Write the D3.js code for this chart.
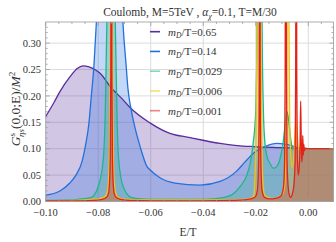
<!DOCTYPE html>
<html>
<head>
<meta charset="utf-8">
<script src="https://cdn.jsdelivr.net/npm/d3@7"></script>
<style>
html, body { margin: 0; padding: 0; background: #fff; }
svg { display: block; font-family: "Liberation Serif", serif; }
</style>
</head>
<body>
<div id="painting"></div>
<script>
// m_D/T values for the legend
var labels = ["0.65", "0.14", "0.029", "0.006", "0.001"];

var colours = ["#5a2ca0", "#2170dc", "#20b68a", "#f5c211", "#e62117"];

// [E/T, G/M^2]
var purple = [[-0.1000,0.161],[-0.0968,0.188],[-0.0946,0.208],[-0.0908,0.236],[-0.0880,0.252],[-0.0858,0.257],
  [-0.0835,0.255],[-0.0810,0.249],[-0.0793,0.243],[-0.0750,0.215],[-0.0706,0.193],[-0.0679,0.178],[-0.0603,0.149],
  [-0.0527,0.129],[-0.0450,0.121],[-0.0401,0.116],[-0.0336,0.110],[-0.0271,0.106],[-0.0210,0.104],[-0.0108,0.102],
  [-0.0020,0.1005],[0.0000,0.100],[0.0096,0.100]];

var blue = [[-0.1000,0.012],[-0.0946,0.020],[-0.0908,0.035],[-0.0885,0.050],[-0.0862,0.075],[-0.0847,0.110],
  [-0.0835,0.150],[-0.0828,0.190],[-0.0816,0.260],[-0.0807,0.340],[-0.0793,0.480],[-0.0774,0.700],[-0.0756,0.850],
  [-0.0737,0.750],[-0.0717,0.480],[-0.0706,0.340],[-0.0694,0.260],[-0.0687,0.215],[-0.0675,0.175],[-0.0660,0.140],
  [-0.0641,0.105],[-0.0614,0.066],[-0.0603,0.060],[-0.0565,0.045],[-0.0508,0.035],[-0.0412,0.031],[-0.0336,0.038],
  [-0.0272,0.058],[-0.0241,0.075],[-0.0210,0.091],[-0.0165,0.104],[-0.0119,0.110],[-0.0070,0.107],[-0.0032,0.1005],
  [0.0000,0.100],[0.0096,0.100]];

var teal = [[-0.1000,0.002],[-0.0900,0.003],[-0.0865,0.005],[-0.0827,0.008],[-0.0800,0.028],[-0.0781,0.079],
  [-0.0773,0.173],[-0.0767,0.340],[-0.0762,0.600],[-0.0751,1.400],[-0.0740,0.600],[-0.0735,0.340],[-0.0729,0.173],
  [-0.0722,0.079],[-0.0705,0.028],[-0.0675,0.008],[-0.0637,0.005],[-0.0550,0.004],[-0.0400,0.004],[-0.0320,0.008],
  [-0.0290,0.013],[-0.0260,0.028],[-0.0234,0.050],[-0.0220,0.075],[-0.0210,0.110],[-0.0200,0.173],[-0.0195,0.340],
  [-0.0191,0.650],[-0.0185,1.300],[-0.0179,0.650],[-0.0176,0.340],[-0.0171,0.173],[-0.0165,0.110],[-0.0157,0.085],
  [-0.0146,0.072],[-0.0133,0.063],[-0.0119,0.067],[-0.0108,0.080],[-0.0095,0.115],[-0.0089,0.142],[-0.0081,0.170],
  [-0.0074,0.150],[-0.0066,0.115],[-0.0059,0.098],[-0.0047,0.102],[-0.0032,0.100],[0.0000,0.100],[0.0096,0.100]];

var yellow = [[-0.1000,0.001],[-0.0900,0.002],[-0.0820,0.004],[-0.0786,0.007],[-0.0775,0.009],[-0.0765,0.020],
  [-0.0760,0.047],[-0.0757,0.100],[-0.0755,0.200],[-0.0753,0.380],[-0.0750,1.200],[-0.0747,0.380],[-0.0745,0.200],
  [-0.0743,0.100],[-0.0740,0.047],[-0.0735,0.020],[-0.0725,0.008],[-0.0700,0.004],[-0.0600,0.003],[-0.0400,0.003],
  [-0.0300,0.003],[-0.0240,0.004],[-0.0215,0.007],[-0.0209,0.010],[-0.0203,0.047],[-0.0199,0.120],[-0.0195,0.340],
  [-0.0188,1.200],[-0.0181,0.340],[-0.0177,0.120],[-0.0174,0.047],[-0.0166,0.012],[-0.0150,0.007],[-0.0133,0.006],
  [-0.0115,0.008],[-0.0100,0.013],[-0.0093,0.020],[-0.0088,0.047],[-0.0084,0.130],[-0.0081,0.380],[-0.00775,1.100],
  [-0.0074,0.380],[-0.0071,0.160],[-0.0067,0.090],[-0.0062,0.065],[-0.0057,0.075],[-0.0052,0.115],[-0.0047,0.155],
  [-0.0042,0.130],[-0.0037,0.098],[-0.0030,0.101],[0.0000,0.100],[0.0096,0.100]];

var red = [[-0.1000,0.001],[-0.0900,0.001],[-0.0820,0.002],[-0.0785,0.004],[-0.0768,0.008],[-0.0761,0.015],
  [-0.0757,0.035],[-0.0754,0.090],[-0.0752,0.250],[-0.0750,1.000],[-0.0748,0.250],[-0.0746,0.090],[-0.0743,0.035],
  [-0.0739,0.015],[-0.0732,0.008],[-0.0715,0.004],[-0.0680,0.002],[-0.0500,0.001],[-0.0300,0.002],[-0.0230,0.004],
  [-0.0203,0.008],[-0.0194,0.020],[-0.0190,0.060],[-0.0187,0.200],[-0.0185,1.000],[-0.0183,0.200],[-0.0180,0.060],
  [-0.0176,0.020],[-0.0167,0.008],[-0.0150,0.005],[-0.0125,0.006],[-0.0105,0.010],[-0.0095,0.025],[-0.0090,0.080],
  [-0.0088,0.250],[-0.00857,1.000],[-0.0083,0.250],[-0.0081,0.080],[-0.0077,0.030],[-0.0072,0.012],[-0.0068,0.008],
  [-0.0062,0.012],[-0.0055,0.030],[-0.0050,0.080],[-0.0048,0.250],[-0.0046,1.000],[-0.0044,0.250],[-0.0042,0.090],
  [-0.0038,0.050],[-0.0033,0.080],[-0.0031,0.120],[-0.0029,0.190],[-0.0027,0.120],[-0.0025,0.075],[-0.0023,0.085],
  [-0.0021,0.125],[-0.0019,0.088],[-0.0017,0.108],[-0.0015,0.096],[-0.0012,0.101],[0.0000,0.100],[0.0096,0.100]];

var series = [purple, blue, teal, yellow, red];

var xTicks = [-0.10, -0.08, -0.06, -0.04, -0.02, 0.00];
var yTicks = [0.00, 0.05, 0.10, 0.15, 0.20, 0.25, 0.30];

var w = 336, h = 242;
var pLeft = 45.7, pRight = 333.5, pTop = 22, pBottom = 201.5;

var xScale = d3.scaleLinear().domain([-0.1, 0.0096]).range([pLeft, pRight]);
var yScale = d3.scaleLinear().domain([0, 0.34]).range([pBottom, pTop]);

var svg = d3.select("#painting").append("svg")
  .attr("width", w)
  .attr("height", h);

svg.append("clipPath").attr("id", "plotclip")
  .append("rect")
  .attr("x", pLeft).attr("y", pTop)
  .attr("width", pRight - pLeft).attr("height", pBottom - pTop);

// grid
var grid = svg.append("g").attr("stroke", "#dcdcdc").attr("stroke-width", 1);
grid.selectAll(".gx").data(xTicks.slice(1)).enter().append("line")
  .attr("x1", function(d){ return xScale(d); }).attr("x2", function(d){ return xScale(d); })
  .attr("y1", pTop).attr("y2", pBottom);
grid.selectAll(".gy").data(yTicks.slice(1)).enter().append("line")
  .attr("y1", function(d){ return yScale(d); }).attr("y2", function(d){ return yScale(d); })
  .attr("x1", pLeft).attr("x2", pRight);

var plot = svg.append("g").attr("clip-path", "url(#plotclip)");

var area = d3.area()
  .x(function(d){ return xScale(d[0]); })
  .y0(yScale(0))
  .y1(function(d){ return yScale(d[1]); })
  .curve(d3.curveMonotoneX);

var line = d3.line()
  .x(function(d){ return xScale(d[0]); })
  .y(function(d){ return yScale(d[1]); })
  .curve(d3.curveMonotoneX);

// fills first, then the lines on top
plot.selectAll(".fill").data(series).enter().append("path")
  .attr("d", area)
  .attr("fill", function(d, i){ return colours[i]; })
  .attr("fill-opacity", 0.27);

plot.selectAll(".curve").data(series).enter().append("path")
  .attr("d", line)
  .attr("fill", "none")
  .attr("stroke", function(d, i){ return colours[i]; })
  .attr("stroke-width", 1.3);

// frame with ticks on all sides (pointing in)
var frame = svg.append("g").attr("stroke", "#9a9a9a").attr("stroke-width", 0.8);
frame.append("rect")
  .attr("x", pLeft).attr("y", pTop)
  .attr("width", pRight - pLeft).attr("height", pBottom - pTop)
  .attr("fill", "none");

var xMinor = d3.range(-0.1, 0.0096, 0.005);
var yMinor = d3.range(0, 0.34, 0.01);

frame.selectAll(".xt").data(xMinor).enter().append("line")
  .attr("x1", function(d){ return xScale(d); }).attr("x2", function(d){ return xScale(d); })
  .attr("y1", pBottom).attr("y2", function(d, i){ return pBottom - (i % 4 == 0 ? 4 : 2); });
frame.selectAll(".xtt").data(xMinor).enter().append("line")
  .attr("x1", function(d){ return xScale(d); }).attr("x2", function(d){ return xScale(d); })
  .attr("y1", pTop).attr("y2", function(d, i){ return pTop + (i % 4 == 0 ? 4 : 2); });
frame.selectAll(".yt").data(yMinor).enter().append("line")
  .attr("y1", function(d){ return yScale(d); }).attr("y2", function(d){ return yScale(d); })
  .attr("x1", pLeft).attr("x2", function(d, i){ return pLeft + (i % 5 == 0 ? 4 : 2); });
frame.selectAll(".ytr").data(yMinor).enter().append("line")
  .attr("y1", function(d){ return yScale(d); }).attr("y2", function(d){ return yScale(d); })
  .attr("x1", pRight).attr("x2", function(d, i){ return pRight - (i % 5 == 0 ? 4 : 2); });

// tick labels
var fmt = d3.format(".2f");
svg.selectAll(".xl").data(xTicks).enter().append("text")
  .attr("x", function(d){ return xScale(d); })
  .attr("y", 216)
  .attr("text-anchor", "middle")
  .attr("font-size", 10.5)
  .attr("fill", "#333")
  .text(function(d){ return fmt(d); });

svg.selectAll(".yl").data(yTicks).enter().append("text")
  .attr("x", 41)
  .attr("y", function(d){ return yScale(d); })
  .attr("dy", "0.35em")
  .attr("text-anchor", "end")
  .attr("font-size", 10.5)
  .attr("fill", "#333")
  .text(function(d){ return fmt(d); });

// title
var title = svg.append("text")
  .attr("x", 190).attr("y", 16)
  .attr("text-anchor", "middle")
  .attr("font-size", 11.5)
  .attr("fill", "#333");
title.append("tspan").text("Coulomb, M=5TeV , ");
title.append("tspan").attr("font-style", "italic").text("α");
title.append("tspan").attr("font-size", 8).attr("dy", 2.5).attr("font-style", "italic").text("χ");
title.append("tspan").attr("dy", -2.5).text("=0.1, T=M/30");

// x label
svg.append("text")
  .attr("x", 188).attr("y", 236)
  .attr("text-anchor", "middle")
  .attr("font-size", 11.5)
  .attr("fill", "#333")
  .text("E/T");

// y label
var ylab = svg.append("text")
  .attr("transform", "translate(20,109) rotate(-90)")
  .attr("text-anchor", "middle")
  .attr("font-size", 13.5)
  .attr("fill", "#333");
ylab.append("tspan").attr("font-style", "italic").text("G");
ylab.append("tspan").attr("font-size", 9).attr("dy", -5).text("s");
ylab.append("tspan").attr("font-size", 9).attr("dx", -4).attr("dy", 8.5).attr("font-style", "italic").text("ηs");
ylab.append("tspan").attr("dy", -3.5).text("(0,0;E)/");
ylab.append("tspan").attr("font-style", "italic").text("M");
ylab.append("tspan").attr("font-size", 9).attr("dy", -5).text("2");

// legend
var legend = svg.append("g");
var rows = legend.selectAll("g").data(labels).enter().append("g")
  .attr("transform", function(d, i){ return "translate(150," + (31.7 + i * 19.75) + ")"; });
rows.append("line")
  .attr("x1", 0).attr("x2", 10)
  .attr("stroke", function(d, i){ return colours[i]; })
  .attr("stroke-opacity", function(d, i){ return i < 2 ? 1 : 0.55; })
  .attr("stroke-width", 1.6);
var lt = rows.append("text")
  .attr("x", 18).attr("y", 0).attr("dy", "0.35em")
  .attr("font-size", 11)
  .attr("fill", "#333");
lt.append("tspan").attr("font-style", "italic").text("m");
lt.append("tspan").attr("font-style", "italic").attr("font-size", 7.5).attr("dy", 2.5).text("D");
lt.append("tspan").attr("dy", -2.5).text(function(d){ return "/T=" + d; });
</script>
</body>
</html>
